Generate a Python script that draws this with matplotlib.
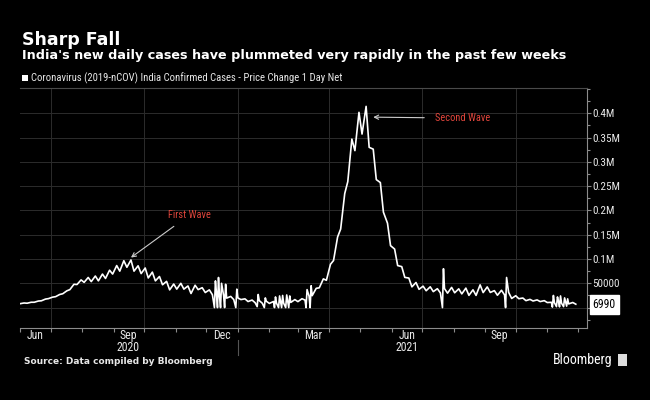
"""India daily new cases (Bloomberg-style dark chart) -> out.png"""

import matplotlib

matplotlib.use("Agg")
import matplotlib.dates as mdates
import matplotlib.pyplot as plt
import pandas as pd
from matplotlib.patches import Rectangle
from matplotlib.ticker import FixedLocator, MultipleLocator

# weekly Monday lows and Friday highs of daily new cases (thousands)
MONDAY_CASES = [
    8.0, 9.0, 11.0, 14.0, 18.5, 22.5, 28.5, 37.0, 47.5, 52.0,
    53.5, 55.0, 60.0, 69.0, 75.0, 83.0, 75.0, 70.0, 61.0, 55.0,
    47.0, 36.5, 38.0, 38.0, 29.0, 37.0, 31.0, 26.5, 23.0, 19.5,
    16.5, 16.5, 12.5, 10.0, 9.0, 8.6, 9.1, 9.1, 10.6, 12.3,
    15.4, 24.5, 40.7, 56.2, 96.9, 161.7, 259.2, 323.1, 357.2, 329.9,
    263.5, 196.4, 127.5, 86.5, 62.2, 42.6, 37.6, 34.7, 32.9, 30.1,
    29.7, 30.5, 28.2, 25.2, 25.1, 30.9, 31.2, 25.4, 26.1, 18.8,
    18.3, 14.3, 13.6, 12.4, 10.4, 10.1, 8.9, 7.6, 6.99,
]
FRIDAY_CASES = [
    9.5, 11.0, 13.5, 17.5, 21.5, 27.0, 34.5, 48.0, 57.0, 62.0,
    65.0, 69.0, 77.0, 86.5, 96.5, 98.0, 86.0, 81.5, 73.0, 64.0,
    54.0, 48.5, 50.0, 44.5, 46.0, 41.0, 36.5, 30.0, 25.0, 23.0,
    20.0, 18.0, 15.5, 14.5, 13.0, 12.5, 12.0, 13.2, 16.5, 18.3,
    23.3, 39.7, 59.1, 89.1, 145.4, 234.7, 346.8, 401.9, 414.2, 326.1,
    257.3, 173.8, 120.5, 84.3, 60.8, 51.7, 44.1, 42.8, 38.9, 39.1,
    41.6, 38.6, 40.1, 36.6, 46.8, 42.6, 34.9, 35.7, 31.4, 24.4,
    19.7, 16.9, 15.8, 14.3, 10.9, 12.5, 11.1, 10.5,
]

# reporting glitches: a near-zero day followed by a catch-up day
GLITCH_DATES = [
    "2020-12-09", "2020-12-10", "2020-12-12", "2020-12-13",
    "2020-12-15", "2020-12-16", "2020-12-19", "2020-12-20",
    "2020-12-30", "2020-12-31", "2021-01-20", "2021-01-21",
    "2021-01-27", "2021-01-28", "2021-02-06", "2021-02-07",
    "2021-02-10", "2021-02-11", "2021-02-13", "2021-02-14",
    "2021-02-17", "2021-02-18", "2021-02-20", "2021-02-21",
    "2021-03-09", "2021-03-10", "2021-03-13", "2021-03-14",
    "2021-07-21", "2021-07-22", "2021-09-21", "2021-09-22",
    "2021-11-06", "2021-11-07", "2021-11-10", "2021-11-11",
    "2021-11-13", "2021-11-14", "2021-11-17", "2021-11-18",
    "2021-11-20", "2021-11-21",
]
GLITCH_CASES = [
    0, 55, 0, 62, 0, 50, 0, 48,
    0, 38, 2, 27, 0, 20, 0, 22,
    0, 24, 0, 25, 0, 26, 0, 24,
    0, 37, 0, 45, 0, 80, 0, 62,
    1, 25, 2, 22, 1.5, 24, 2, 20,
    3, 18,
]

Y_TICKS = [50000, 100000, 150000, 200000, 250000, 300000, 350000, 400000]
Y_LABELS = ["50000", "0.1M", "0.15M", "0.2M", "0.25M", "0.3M", "0.35M", "0.4M"]
MONTH_LABEL_DATES = ["2020-06-16", "2020-09-15", "2020-12-16", "2021-03-16", "2021-06-16", "2021-09-15"]
MONTH_LABELS = ["Jun", "Sep", "Dec", "Mar", "Jun", "Sep"]
YEAR_LABEL_DATES = ["2020-09-15", "2021-06-16"]
YEAR_LABELS = ["2020", "2021"]
LAST_VALUE = 6990

BG = "#000000"
FG = "#e8e8e8"
RED = "#e0463c"
AXIS = "#8c8c8c"
GRID = "#2c2c2c"
NARROW = ["Roboto Condensed", "Liberation Sans Narrow", "Roboto", "DejaVu Sans"]


def main() -> None:
    mondays = pd.date_range("2020-06-01", "2021-11-29", freq="W-MON")
    fridays = pd.date_range("2020-06-05", "2021-11-26", freq="W-FRI")
    series = pd.concat(
        [
            pd.Series(MONDAY_CASES, index=mondays),
            pd.Series(FRIDAY_CASES, index=fridays),
            pd.Series(GLITCH_CASES, index=pd.to_datetime(GLITCH_DATES)),
        ]
    ).sort_index() * 1000

    fig = plt.figure(figsize=(6.5, 4.0), dpi=100, facecolor=BG)
    ax = fig.add_axes([20 / 650, 1 - 328 / 400, 567 / 650, 240 / 400], facecolor=BG)

    ax.plot(series.index, series.values, color="white", linewidth=1.2, zorder=3)

    ax.set_xlim(pd.Timestamp("2020-06-01"), pd.Timestamp("2021-12-10"))
    ax.set_ylim(-42000, 452000)

    # y axis on the right
    ax.yaxis.tick_right()
    ax.yaxis.set_major_locator(FixedLocator(Y_TICKS))
    ax.set_yticklabels(Y_LABELS)
    ax.yaxis.set_minor_locator(MultipleLocator(25000))
    ax.tick_params(axis="y", which="major", colors=AXIS, labelcolor=FG, length=3,
                   width=0.8, labelsize=8, pad=1)
    ax.tick_params(axis="y", which="minor", colors=AXIS, length=2, width=0.8)
    for lbl in ax.get_yticklabels():
        lbl.set_family(NARROW)

    # x axis: gridlines on quarters, small ticks on months
    ax.xaxis.set_major_locator(mdates.MonthLocator(bymonth=[1, 4, 7, 10]))
    ax.xaxis.set_minor_locator(mdates.MonthLocator())
    ax.tick_params(axis="x", which="both", colors=AXIS, length=3, width=0.8, labelbottom=False)

    ax.grid(True, which="major", color=GRID, linewidth=0.7)
    ax.axhline(0, color=GRID, linewidth=0.7, zorder=1)

    ax.spines["left"].set_visible(False)
    ax.spines["top"].set_color("#4a4a4a")
    ax.spines["bottom"].set_color(AXIS)
    ax.spines["right"].set_color(AXIS)
    for side in ["top", "bottom", "right"]:
        ax.spines[side].set_linewidth(0.8)

    xform = ax.get_xaxis_transform()
    for date, text in zip(MONTH_LABEL_DATES, MONTH_LABELS, strict=True):
        ax.text(pd.Timestamp(date), -0.03, text, transform=xform, ha="center", va="center",
                color=FG, fontsize=8.5, family=NARROW)
    for date, text in zip(YEAR_LABEL_DATES, YEAR_LABELS, strict=True):
        ax.text(pd.Timestamp(date), -0.08, text, transform=xform, ha="center", va="center",
                color=FG, fontsize=8.5, family=NARROW)
    ax.plot([pd.Timestamp("2021-01-01")] * 2, [-0.05, -0.112], transform=xform,
            color="#555555", linewidth=0.8, clip_on=False)

    # last value tag
    ax.annotate(
        f"{LAST_VALUE}",
        xy=(1.0, LAST_VALUE),
        xycoords=("axes fraction", "data"),
        xytext=(4, 0),
        textcoords="offset points",
        ha="left",
        va="center",
        color="black",
        fontsize=8.5,
        family=NARROW,
        bbox=dict(boxstyle="square,pad=0.25", fc="white", ec="white"),
        annotation_clip=False,
    )

    # wave annotations
    ax.annotate(
        "First Wave",
        xy=(pd.Timestamp("2020-09-18"), 103000),
        xytext=(pd.Timestamp("2020-10-24"), 190000),
        color=RED,
        fontsize=7.5,
        family=NARROW,
        ha="left",
        va="center",
        arrowprops=dict(arrowstyle="->", color="#cccccc", linewidth=0.8, shrinkA=4, shrinkB=0),
    )
    ax.annotate(
        "Second Wave",
        xy=(pd.Timestamp("2021-05-14"), 392000),
        xytext=(pd.Timestamp("2021-07-14"), 390000),
        color=RED,
        fontsize=7.5,
        family=NARROW,
        ha="left",
        va="center",
        arrowprops=dict(arrowstyle="->", color="#cccccc", linewidth=0.8, shrinkA=6, shrinkB=0),
    )

    # titles and legend
    fig.text(22 / 650, 1 - 40 / 400, "Sharp Fall", color="white", fontsize=12.5,
             fontweight="bold", va="center", ha="left")
    fig.text(22 / 650, 1 - 56 / 400, "India's new daily cases have plummeted very rapidly in the past few weeks",
             color="white", fontsize=9.2, fontweight="bold", va="center", ha="left")
    fig.patches.append(Rectangle((22 / 650, 1 - 81 / 400), 6 / 650, 6 / 400, transform=fig.transFigure,
                                 facecolor="white", edgecolor="none"))
    fig.text(31 / 650, 1 - 78 / 400, "Coronavirus (2019-nCOV) India Confirmed Cases - Price Change 1 Day Net",
             color=FG, fontsize=7.7, family=NARROW, va="center", ha="left")

    fig.text(24 / 650, 1 - 361 / 400, "Source: Data compiled by Bloomberg", color=FG, fontsize=6.5,
             fontweight="bold", va="center", ha="left")
    fig.text(613 / 650, 1 - 360 / 400, "Bloomberg", color="white", fontsize=10, va="center", ha="right",
             family=NARROW)
    fig.patches.append(Rectangle((618 / 650, 1 - 366 / 400), 9 / 650, 12 / 400, transform=fig.transFigure,
                                 facecolor="#dddddd", edgecolor="none"))

    fig.savefig("out.png", dpi=100, facecolor=BG)


if __name__ == "__main__":
    main()
